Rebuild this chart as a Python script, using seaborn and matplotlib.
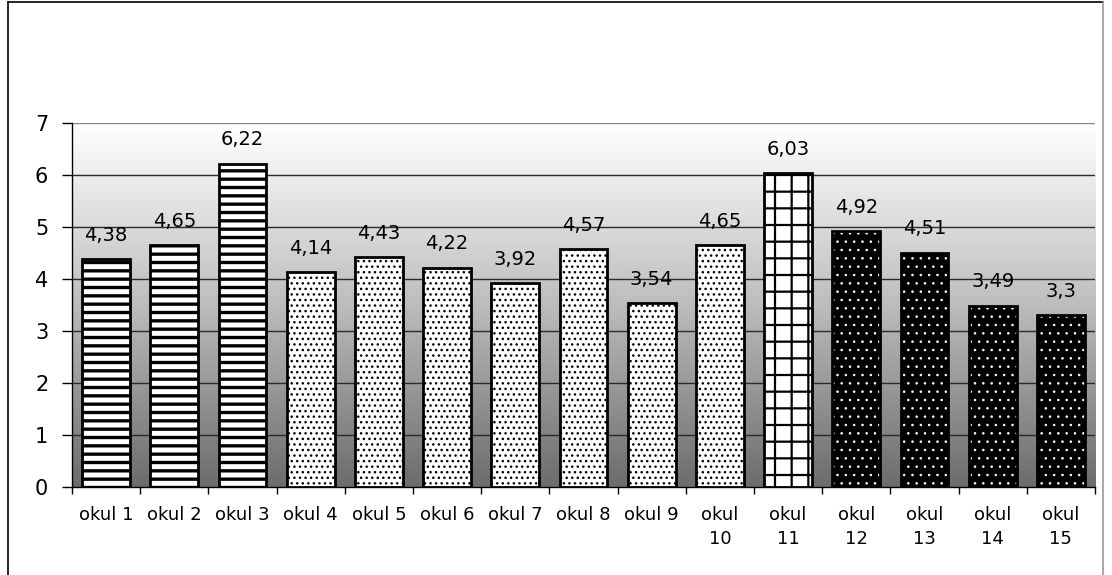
import matplotlib
matplotlib.use("Agg")
import matplotlib.pyplot as plt
import matplotlib.colors as mcolors
import numpy as np
import pandas as pd
import seaborn as sns
from matplotlib.lines import Line2D

# --- data -------------------------------------------------------------
schools = [f"okul {i}" for i in range(1, 16)]
tick_labels = ["okul 1", "okul 2", "okul 3", "okul 4", "okul 5", "okul 6",
               "okul 7", "okul 8", "okul 9", "okul\n10", "okul\n11",
               "okul\n12", "okul\n13", "okul\n14", "okul\n15"]
scores = [4.38, 4.65, 6.22, 4.14, 4.43, 4.22, 3.92, 4.57, 3.54, 4.65,
          6.03, 4.92, 4.51, 3.49, 3.30]
groups = ["A"] * 3 + ["B"] * 7 + ["C"] + ["D"] * 4
y_ticks = [0, 1, 2, 3, 4, 5, 6, 7]

# fill / hatch / hatch colour / hatch line width for each group
group_style = {
    "A": ("white", "--", "black", 2.4),
    "B": ("white", "...", "black", 1.0),
    "C": ("white", "+", "black", 1.6),
    "D": ("black", "..", "white", 0.6),
}

df = pd.DataFrame({"school": schools, "score": scores, "group": groups})

sns.set_theme(style="white")
plt.rcParams["font.family"] = ["DejaVu Sans"]
plt.rcParams["text.color"] = "black"
plt.rcParams["xtick.labelcolor"] = "black"
plt.rcParams["ytick.labelcolor"] = "black"

fig = plt.figure(figsize=(11.12, 5.75), dpi=100)
ax = fig.add_axes([0.0647, 0.153, 0.920, 0.633])

# hatched bars
sns.barplot(data=df, x="school", y="score", order=schools, width=0.7,
            color="white", linewidth=0, saturation=1, ax=ax, zorder=2,
            errorbar=None)
for patch, grp in zip(ax.patches, groups):
    face, hatch, hcol, hlw = group_style[grp]
    patch.set_facecolor(face)
    patch.set_edgecolor(hcol)  # hatch takes the edge colour
    patch.set_linewidth(0)
    patch.set_hatch(hatch)
    if hasattr(patch, "set_hatch_linewidth"):
        patch.set_hatch_linewidth(hlw)
n_fill = len(ax.patches)

# black outlines on top
sns.barplot(data=df, x="school", y="score", order=schools, width=0.7,
            color="black", fill=False, linewidth=2.0, saturation=1, ax=ax,
            zorder=3, errorbar=None)
for patch in ax.patches[n_fill:]:
    patch.set_edgecolor("black")
    patch.set_facecolor("none")
    patch.set_hatch(None)

ax.set_xlim(-0.5, len(schools) - 0.5)
ax.set_ylim(0, 7)

# vertical grey gradient background
grad = np.linspace(0, 1, 256).reshape(-1, 1)
cmap = mcolors.LinearSegmentedColormap.from_list(
    "bg", [(0.0, "#6c6c6c"), (0.55, "#c4c4c4"), (0.85, "#ececec"), (1.0, "#ffffff")])
ax.imshow(grad, cmap=cmap, origin="lower", aspect="auto",
          extent=(-0.5, len(schools) - 0.5, 0, 7), zorder=0)

# horizontal grid lines
for yv in y_ticks[1:]:
    ax.axhline(yv, color="#888888" if yv == 7 else "#2a2a2a", lw=1.0, zorder=1)

# value labels
for i, v in enumerate(scores):
    ax.annotate(f"{v:g}".replace(".", ","), (i, v), xytext=(0, 17),
                textcoords="offset points", ha="center", va="center",
                fontsize=14, color="black", zorder=4)

# axes styling
for side in ("top", "right"):
    ax.spines[side].set_visible(False)
for side in ("left", "bottom"):
    ax.spines[side].set_color("black")
    ax.spines[side].set_linewidth(1.0)
    ax.spines[side].set_zorder(5)

ax.set_yticks(y_ticks)
ax.set_yticklabels([str(t) for t in y_ticks], fontsize=15, color="black")
ax.tick_params(axis="y", direction="out", length=7, width=1, color="black",
               pad=10, left=True)

ax.set_xticks(range(len(schools)))
ax.set_xticklabels(tick_labels, fontsize=13, linespacing=1.4, va="top",
                   color="black")
ax.set_xticks(np.arange(-0.5, len(schools), 1.0), minor=True)
ax.tick_params(axis="x", which="major", length=0, pad=14)
ax.tick_params(axis="x", which="minor", direction="out", length=5, width=1,
               color="black", bottom=True)
ax.set_xlabel("")
ax.set_ylabel("")

# outer chart frame
fig.add_artist(Line2D([8 / 1112, 8 / 1112], [0, 1 - 1.5 / 575],
                      transform=fig.transFigure, color="black", lw=1.2))
fig.add_artist(Line2D([8 / 1112, 1103 / 1112], [1 - 1.5 / 575, 1 - 1.5 / 575],
                      transform=fig.transFigure, color="black", lw=1.2))
fig.add_artist(Line2D([1103 / 1112, 1103 / 1112], [0, 1 - 1.5 / 575],
                      transform=fig.transFigure, color="#9a9a9a", lw=1.2))

fig.savefig("out.png", dpi=100, facecolor="white")
